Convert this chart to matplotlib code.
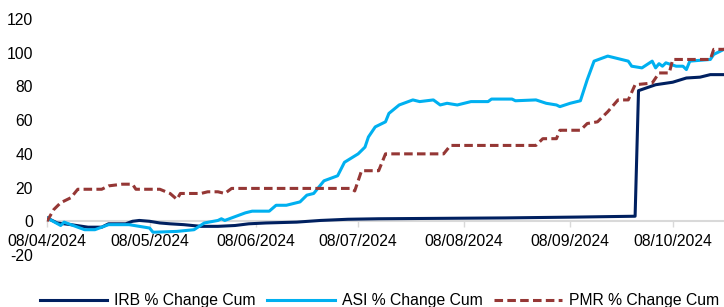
import matplotlib
matplotlib.use("Agg")
import matplotlib.pyplot as plt
import matplotlib.dates as mdates
import pandas as pd

plt.rcParams['font.family'] = ['Liberation Sans', 'DejaVu Sans']
plt.rcParams['axes.unicode_minus'] = False

# Series data
irb_dates = ["2024-04-08", "2024-04-11", "2024-04-15", "2024-04-20", "2024-04-24", "2024-04-26",
             "2024-05-01", "2024-05-03", "2024-05-05", "2024-05-08", "2024-05-11", "2024-05-14",
             "2024-05-18", "2024-05-23", "2024-05-28", "2024-06-02", "2024-06-06", "2024-06-11",
             "2024-06-20", "2024-06-27", "2024-07-05", "2024-07-14", "2024-08-20", "2024-09-10",
             "2024-09-27", "2024-09-28", "2024-10-03", "2024-10-08", "2024-10-12", "2024-10-16",
             "2024-10-19", "2024-10-23"]
irb_vals = [2, -1, -2, -3.5, -3.5, -1.5,
            -1.5, 0, 0.5, 0, -1, -1.5,
            -2, -3, -3, -2.5, -1.5, -1,
            -0.5, 0.5, 1.2, 1.5, 2, 2.5,
            3, 77.5, 81, 82.5, 85, 85.5,
            87, 87]

asi_dates = ["2024-04-08", "2024-04-12", "2024-04-13", "2024-04-15", "2024-04-19", "2024-04-22",
             "2024-04-24", "2024-04-26", "2024-05-02", "2024-05-05", "2024-05-08", "2024-05-09",
             "2024-05-16", "2024-05-21", "2024-05-24", "2024-05-28", "2024-05-29", "2024-05-30",
             "2024-06-01", "2024-06-05", "2024-06-07", "2024-06-11", "2024-06-12", "2024-06-14",
             "2024-06-17", "2024-06-21", "2024-06-23", "2024-06-25", "2024-06-28", "2024-07-02",
             "2024-07-04", "2024-07-08", "2024-07-10", "2024-07-11", "2024-07-13", "2024-07-16",
             "2024-07-17", "2024-07-20", "2024-07-24", "2024-07-26", "2024-07-30", "2024-08-01",
             "2024-08-03", "2024-08-06", "2024-08-08", "2024-08-10", "2024-08-15", "2024-08-16",
             "2024-08-22", "2024-08-23", "2024-08-29", "2024-09-01", "2024-09-04", "2024-09-05",
             "2024-09-08", "2024-09-11", "2024-09-13", "2024-09-15", "2024-09-19", "2024-09-25",
             "2024-09-26", "2024-09-29", "2024-10-02", "2024-10-03", "2024-10-04", "2024-10-05",
             "2024-10-06", "2024-10-09", "2024-10-11", "2024-10-12", "2024-10-13", "2024-10-19",
             "2024-10-20", "2024-10-23"]
asi_vals = [2, -2.5, -0.5, -2, -5, -5,
            -3.5, -2, -2, -3, -4, -6.5,
            -6, -5, -1, 0.5, 1.5, 0.5,
            2, 5, 6, 6, 6, 9.5,
            9.5, 11.5, 15.5, 16.5, 24, 27,
            35, 40, 44, 50, 56, 59,
            64, 69, 72, 71, 72, 69,
            70, 69, 70, 71, 71, 72.5,
            72.5, 71.5, 72, 70, 69, 68,
            70, 71.5, 84, 95, 98, 95,
            92, 91, 95, 91, 93.5, 92,
            94, 92, 92, 90, 95, 96,
            99, 102]

pmr_dates = ["2024-04-08", "2024-04-10", "2024-04-12", "2024-04-15", "2024-04-17", "2024-04-24",
             "2024-04-26", "2024-04-30", "2024-05-03", "2024-05-04", "2024-05-11", "2024-05-14",
             "2024-05-16", "2024-05-17", "2024-05-23", "2024-05-25", "2024-05-28", "2024-05-30",
             "2024-06-01", "2024-07-06", "2024-07-07", "2024-07-09", "2024-07-14", "2024-07-16",
             "2024-08-02", "2024-08-04", "2024-08-29", "2024-08-31", "2024-09-04", "2024-09-05",
             "2024-09-11", "2024-09-13", "2024-09-16", "2024-09-19", "2024-09-22", "2024-09-25",
             "2024-09-27", "2024-10-02", "2024-10-04", "2024-10-07", "2024-10-08", "2024-10-19",
             "2024-10-20", "2024-10-23"]
pmr_vals = [0, 7, 11, 14, 19, 19,
            21, 22, 22, 19, 19, 16.5,
            13, 16.5, 16.5, 17.5, 17.5, 16.5,
            19.5, 19.5, 18, 30, 30, 40,
            40, 45, 45, 49, 49, 54,
            54, 58, 59, 65, 72, 72,
            81, 82, 88, 88, 96, 96,
            102, 102]

tick_dates = ["2024-04-08", "2024-05-08", "2024-06-08", "2024-07-08",
              "2024-08-08", "2024-09-08", "2024-10-08"]

fig = plt.figure(figsize=(7.24, 3.07), dpi=100)
ax = fig.add_axes([47 / 724, 1 - 255 / 307, 1 - 47 / 724, (255 - 19) / 307])

ax.plot(pd.to_datetime(irb_dates), irb_vals, color="#002060", lw=2.2, label="IRB % Change Cum")
ax.plot(pd.to_datetime(asi_dates), asi_vals, color="#00B0F0", lw=2.2, label="ASI % Change Cum")
ax.plot(pd.to_datetime(pmr_dates), pmr_vals, color="#953735", lw=2.2, dashes=(2.8, 1.4),
        label="PMR % Change Cum")

ax.set_ylim(-20, 120)
ax.set_yticks(range(-20, 121, 20))
ax.set_xlim(pd.Timestamp("2024-04-08"), pd.Timestamp("2024-10-23"))
ax.set_xticks(pd.to_datetime(tick_dates))
ax.xaxis.set_major_formatter(mdates.DateFormatter("%d/%m/%Y"))

for side in ["top", "right", "left"]:
    ax.spines[side].set_visible(False)
ax.spines["bottom"].set_position(("data", 0))
ax.spines["bottom"].set_color("#d9d9d9")
ax.spines["bottom"].set_linewidth(1.5)
ax.spines["bottom"].set_zorder(0)
ax.tick_params(axis="x", direction="out", length=4, width=1, color="#d9d9d9",
               labelsize=11.3, pad=5, labelcolor="#000000")
ax.tick_params(axis="y", length=0, labelsize=11.3, pad=10, labelcolor="#000000")

fig.legend(loc="center", bbox_to_anchor=(0.524, 1 - 301 / 307), ncol=3, frameon=False,
           fontsize=11.3, handlelength=4.3, columnspacing=0.75, handletextpad=0.45)

fig.savefig("out.png", dpi=100)
